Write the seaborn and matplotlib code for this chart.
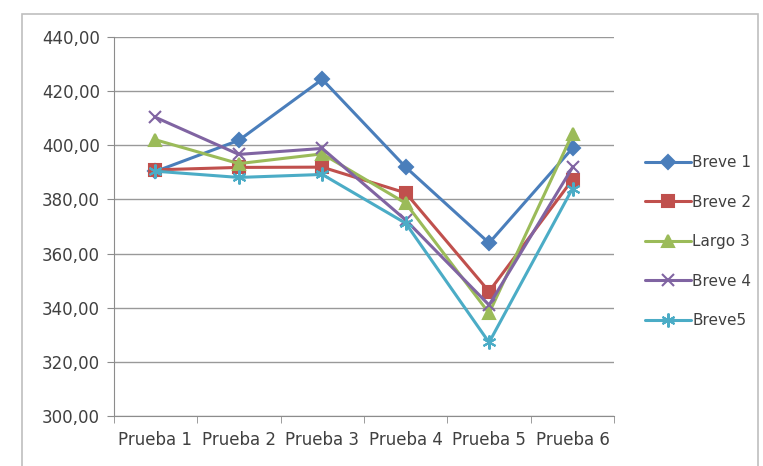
import numpy as np
import pandas as pd
import matplotlib
matplotlib.use("Agg")
import matplotlib.pyplot as plt
from matplotlib.patches import Rectangle
from matplotlib.ticker import FuncFormatter, FixedLocator
import seaborn as sns

pruebas = ["Prueba 1", "Prueba 2", "Prueba 3", "Prueba 4", "Prueba 5", "Prueba 6"]
breve1 = [390.3, 401.8, 424.3, 391.9, 363.9, 398.9]
breve2 = [390.9, 391.8, 391.9, 382.4, 346.0, 387.3]
largo3 = [402.0, 393.2, 396.8, 378.6, 338.0, 404.2]
breve4 = [410.3, 396.6, 398.8, 372.4, 341.0, 391.8]
breve5 = [390.4, 388.1, 389.2, 371.2, 327.2, 384.0]
series = ["Breve 1", "Breve 2", "Largo 3", "Breve 4", "Breve5"]

df = pd.DataFrame({
    "Prueba": pruebas * 5,
    "Valor": breve1 + breve2 + largo3 + breve4 + breve5,
    "Serie": np.repeat(series, len(pruebas)),
})

colors = {"Breve 1": "#4A7EBB", "Breve 2": "#C0504D", "Largo 3": "#9BBB59",
          "Breve 4": "#8064A2", "Breve5": "#4BACC6"}
markers = {"Breve 1": "D", "Breve 2": "s", "Largo 3": "^",
           "Breve 4": "x", "Breve5": (6, 2, 0)}
msizes = {"Breve 1": 7, "Breve 2": 8, "Largo 3": 8, "Breve 4": 9, "Breve5": 10}

sns.set_style("white")
fig = plt.figure(figsize=(7.63, 4.66), dpi=100)
fig.patches.append(Rectangle((0.029, -0.01), 0.965, 0.98, transform=fig.transFigure,
                             fill=False, edgecolor="#BFBFBF", linewidth=1.2))
ax = fig.add_axes([0.149, 0.107, 0.656, 0.814])

for s in series:
    sub = df[df["Serie"] == s]
    sns.lineplot(data=sub, x="Prueba", y="Valor", color=colors[s], marker=markers[s],
                 sort=False, linewidth=2.2, markersize=msizes[s], markeredgewidth=1.5,
                 markeredgecolor=colors[s], label=s, ax=ax)

ax.set_ylim(300, 440)
ax.set_xlim(-0.5, 5.5)
ax.set_yticks(np.arange(300, 441, 20))
ax.yaxis.set_major_formatter(FuncFormatter(lambda v, p: f"{v:.2f}".replace(".", ",")))
ax.set_xticks(range(6))
ax.set_xticklabels(pruebas)
ax.xaxis.set_minor_locator(FixedLocator(np.arange(-0.5, 6, 1)))
ax.tick_params(axis="x", which="major", length=0, pad=11, labelsize=12, colors="#404040")
ax.tick_params(axis="x", which="minor", length=5, color="#8C8C8C", bottom=True)
ax.tick_params(axis="y", length=5, color="#8C8C8C", left=True, labelsize=12,
               colors="#404040", pad=5)
ax.grid(axis="y", color="#999999", linewidth=1)
ax.set_axisbelow(True)
for s in ["top", "right"]:
    ax.spines[s].set_visible(False)
for s in ["left", "bottom"]:
    ax.spines[s].set_color("#8C8C8C")
ax.set_xlabel("")
ax.set_ylabel("")

handles, labels = ax.get_legend_handles_labels()
ax.legend(handles, labels, loc="center left", bbox_to_anchor=(1.035, 0.46),
          frameon=False, fontsize=11, handlelength=3.0, handletextpad=0.05,
          labelspacing=1.6, labelcolor="#404040")

fig.savefig("out.png", dpi=100)
